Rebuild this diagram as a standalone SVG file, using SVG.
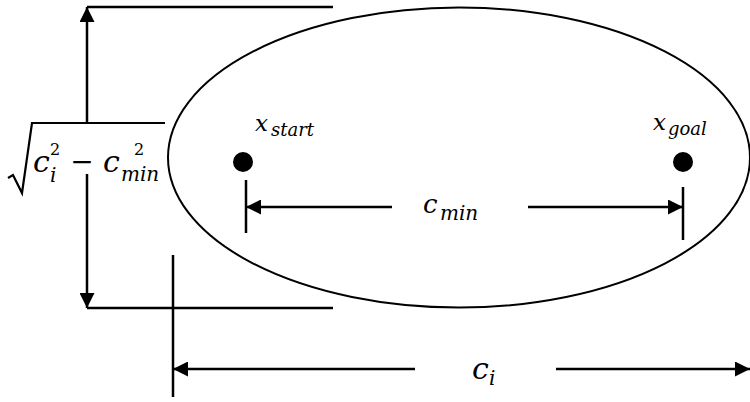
<svg xmlns="http://www.w3.org/2000/svg" width="750" height="402" viewBox="0 0 750 402">
<style>
.ln{stroke:#000;stroke-width:2.5;fill:none}
.el{stroke:#000;stroke-width:2;fill:none}
.m{font-family:"DejaVu Serif","Liberation Serif",serif;font-style:italic;fill:#000}
.up{font-family:"DejaVu Serif","Liberation Serif",serif;fill:#000}
.arr{marker-end:url(#ah)}
</style>
<defs>
<marker id="ah" viewBox="0 0 10 10" refX="10" refY="5" markerWidth="17" markerHeight="15" markerUnits="userSpaceOnUse" orient="auto">
<path d="M0,0 L10,5 L0,10 z" fill="#000"/>
</marker>
</defs>
<rect width="750" height="402" fill="#fff"/>
<g id="region">
<ellipse class="el" cx="459" cy="157.5" rx="291" ry="150"/>
</g>
<g id="x_start">
<circle cx="243" cy="162" r="10" fill="#000"/>
<text class="m" x="255" y="131" font-size="23">x</text>
<text class="m" x="271" y="136" font-size="18">start</text>
</g>
<g id="x_goal">
<circle cx="683" cy="162" r="10" fill="#000"/>
<text class="m" x="653" y="130" font-size="23">x</text>
<text class="m" x="668" y="135" font-size="18">goal</text>
</g>
<g id="connectors">
<line class="ln" x1="87" y1="7" x2="333" y2="7"/>
<line class="ln" x1="87" y1="308" x2="333" y2="308"/>
<line class="ln arr" x1="87" y1="123" x2="87" y2="7"/>
<line class="ln arr" x1="87" y1="174" x2="87" y2="308"/>
<line class="ln" x1="246" y1="180" x2="246" y2="233"/>
<line class="ln" x1="683" y1="187" x2="683" y2="240"/>
<line class="ln arr" x1="392" y1="207" x2="246" y2="207"/>
<line class="ln arr" x1="528" y1="207" x2="683" y2="207"/>
<line class="ln" x1="173" y1="255" x2="173" y2="397"/>
<line class="ln arr" x1="415" y1="369" x2="173" y2="369"/>
<line class="ln arr" x1="556" y1="369" x2="750" y2="369"/>
</g>
<g id="label_cmin">
<text class="m" x="423" y="213" font-size="26">c</text>
<text class="m" x="440" y="220" font-size="20">min</text>
</g>
<g id="label_ci">
<text class="m" x="472" y="379" font-size="30">c</text>
<text class="m" x="489" y="385" font-size="20">i</text>
</g>
<g id="label_sqrt">
<polyline points="8,178 13,175 22,193 32,123 165,123" fill="none" stroke="#000" stroke-width="2.2" stroke-linejoin="miter"/>
<text class="m" x="33" y="172" font-size="30">c</text>
<text class="m" x="50" y="182" font-size="20">i</text>
<text class="up" x="50" y="155" font-size="16">2</text>
<text class="up" x="82" y="171" font-size="28" text-anchor="middle">−</text>
<text class="m" x="103" y="172" font-size="30">c</text>
<text class="m" x="121" y="181" font-size="20">min</text>
<text class="up" x="134" y="155" font-size="16">2</text>
</g>
</svg>
